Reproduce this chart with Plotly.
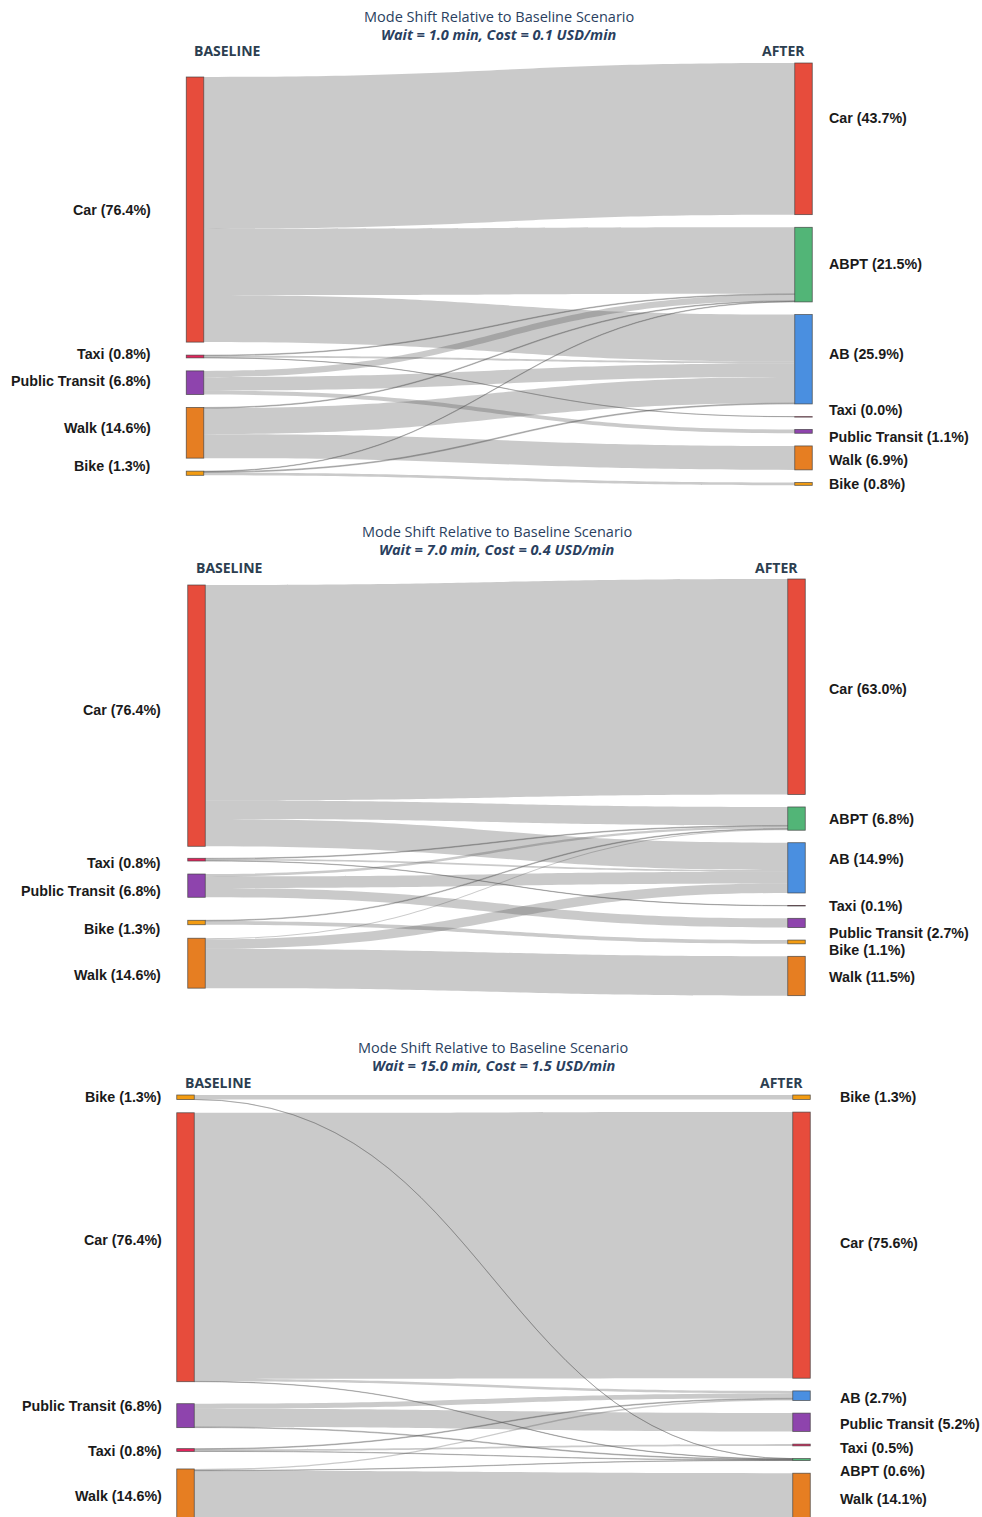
import plotly.graph_objects as go

FIG_W, FIG_H = 982, 1517

# ---------------- data ----------------
scenario_subtitles = [
    "Wait = 1.0 min, Cost = 0.1 USD/min",
    "Wait = 7.0 min, Cost = 0.4 USD/min",
    "Wait = 15.0 min, Cost = 1.5 USD/min",
]

# Scenario 1
s1_base_modes = ["Car", "Taxi", "Public Transit", "Walk", "Bike"]
s1_base_share = [76.4, 0.8, 6.8, 14.6, 1.3]
s1_after_modes = ["Car", "ABPT", "AB", "Taxi", "Public Transit", "Walk", "Bike"]
s1_after_share = [43.7, 21.5, 25.9, 0.0, 1.1, 6.9, 0.8]
s1_flow_from = ["Car", "Car", "Car", "Taxi", "Taxi", "Taxi",
                "Public Transit", "Public Transit", "Public Transit",
                "Walk", "Walk", "Walk", "Bike", "Bike", "Bike"]
s1_flow_to = ["Car", "ABPT", "AB", "ABPT", "AB", "Taxi",
              "ABPT", "AB", "Public Transit",
              "ABPT", "AB", "Walk", "ABPT", "AB", "Bike"]
s1_flow_value = [43.7, 19.15, 13.55, 0.2, 0.55, 0.05,
                 1.8, 3.9, 1.1,
                 0.2, 7.5, 6.9, 0.15, 0.25, 0.8]

# Scenario 2
s2_base_modes = ["Car", "Taxi", "Public Transit", "Bike", "Walk"]
s2_base_share = [76.4, 0.8, 6.8, 1.3, 14.6]
s2_after_modes = ["Car", "ABPT", "AB", "Taxi", "Public Transit", "Bike", "Walk"]
s2_after_share = [63.0, 6.8, 14.9, 0.1, 2.7, 1.1, 11.5]
s2_flow_from = ["Car", "Car", "Car", "Taxi", "Taxi", "Taxi",
                "Public Transit", "Public Transit", "Public Transit",
                "Bike", "Bike", "Walk", "Walk", "Walk"]
s2_flow_to = ["Car", "ABPT", "AB", "ABPT", "AB", "Taxi",
              "ABPT", "AB", "Public Transit",
              "ABPT", "Bike", "ABPT", "AB", "Walk"]
s2_flow_value = [63.0, 5.4, 8.0, 0.2, 0.5, 0.1,
                 0.7, 3.4, 2.7,
                 0.2, 1.1, 0.3, 2.8, 11.5]

# Scenario 3
s3_base_modes = ["Bike", "Car", "Public Transit", "Taxi", "Walk"]
s3_base_share = [1.3, 76.4, 6.8, 0.8, 14.6]
s3_after_modes = ["Bike", "Car", "AB", "Public Transit", "Taxi", "ABPT", "Walk"]
s3_after_share = [1.3, 75.6, 2.7, 5.2, 0.5, 0.6, 14.1]
s3_flow_from = ["Bike", "Bike", "Car", "Car", "Car",
                "Public Transit", "Public Transit", "Public Transit",
                "Taxi", "Taxi", "Taxi", "Walk", "Walk", "Walk"]
s3_flow_to = ["Bike", "ABPT", "Car", "AB", "ABPT",
              "Public Transit", "AB", "ABPT",
              "Taxi", "AB", "ABPT", "Walk", "AB", "ABPT"]
s3_flow_value = [1.25, 0.05, 75.6, 0.7, 0.1,
                 5.2, 1.4, 0.2,
                 0.5, 0.2, 0.1, 14.1, 0.4, 0.1]

mode_colors = {
    "Car": "#e74c3c",
    "Taxi": "#e3245c",
    "Public Transit": "#8e44ad",
    "Walk": "#e67e22",
    "Bike": "#f39c12",
    "ABPT": "#52b577",
    "AB": "#4a8fe0",
}

# ---------------- layout (pixel geometry) ----------------
geom = [
    dict(top=63, bottom=486, ky=3.47, lx=195, rx=803.5,
         lstart=77, lgaps=[13, 13, 13, 13], rstart=63, rgap=12.67,
         llab_x=153, rlab_x=827,
         llab_y=[210, 354, 381, 428, 466],
         rlab_y=[118, 264, 354, 410, 437, 460, 484],
         tx=499, ty=16, sy=34, hy=51, bx=192, ax=807),
    dict(top=579, bottom=996, ky=3.42, lx=196.5, rx=796.5,
         lstart=585, lgaps=[12, 13, 23, 13.5], rstart=579, rgap=12.5,
         llab_x=163, rlab_x=827,
         llab_y=[710, 863, 891, 929, 975],
         rlab_y=[689, 819, 859, 906, 933, 950, 977],
         tx=497, ty=532, sy=550, hy=567, bx=194, ax=800),
    dict(top=1095, bottom=1517, ky=3.52, lx=185.5, rx=801.5,
         lstart=1095, lgaps=[13.2, 22, 21, 17.5], rstart=1095, rgap=12.7,
         llab_x=164, rlab_x=838,
         llab_y=[1097, 1240, 1406, 1451, 1496],
         rlab_y=[1097, 1243, 1398, 1424, 1448, 1471, 1499],
         tx=493, ty=1047, sy=1065, hy=1082, bx=183, ax=805),
]

scenarios = [
    (s1_base_modes, s1_base_share, s1_after_modes, s1_after_share,
     s1_flow_from, s1_flow_to, s1_flow_value),
    (s2_base_modes, s2_base_share, s2_after_modes, s2_after_share,
     s2_flow_from, s2_flow_to, s2_flow_value),
    (s3_base_modes, s3_base_share, s3_after_modes, s3_after_share,
     s3_flow_from, s3_flow_to, s3_flow_value),
]

NODE_T = 17.5
LABEL_FONT = "Liberation Sans, Arial, Helvetica, sans-serif"
TITLE_FONT = "Open Sans, sans-serif"
LINK_COLOR = "rgba(80,80,80,0.3)"


def px_x(p):
    return p / FIG_W


def px_y(p):
    return 1 - p / FIG_H


def stack_centers(values, ky, start, gaps):
    centers = []
    y = start
    for i, v in enumerate(values):
        h = ky * v
        centers.append(y + h / 2)
        y += h + (gaps[i] if i < len(gaps) else 0)
    return centers


fig = go.Figure()
annotations = []

for (bm, bs, am, ash, ff, ft, fv), g, sub in zip(scenarios, geom, scenario_subtitles):
    n_left = len(bm)
    left_vals = [sum(v for f, v in zip(ff, fv) if f == m) for m in bm]
    right_vals = [sum(v for t, v in zip(ft, fv) if t == m) for m in am]
    total = sum(fv)
    hdom = g["bottom"] - g["top"]
    pad = (hdom - g["ky"] * total) / (len(am) - 1)

    lc = stack_centers(left_vals, g["ky"], g["lstart"], g["lgaps"])
    rc = stack_centers(right_vals, g["ky"], g["rstart"], [g["rgap"]] * len(am))

    node_x = [g["lx"] / FIG_W] * n_left + [g["rx"] / FIG_W] * len(am)
    node_y = [(c - g["top"]) / hdom for c in lc] + [(c - g["top"]) / hdom for c in rc]
    node_col = [mode_colors[m] for m in bm] + [mode_colors[m] for m in am]

    src = [bm.index(f) for f in ff]
    tgt = [n_left + am.index(t) for t in ft]

    fig.add_trace(go.Sankey(
        domain=dict(x=[0, 1], y=[px_y(g["bottom"]), px_y(g["top"])]),
        arrangement="fixed",
        node=dict(
            label=[""] * (n_left + len(am)),
            customdata=bm + am,
            hovertemplate="%{customdata}<extra></extra>",
            x=node_x, y=node_y,
            color=node_col,
            pad=pad,
            thickness=NODE_T,
            line=dict(color="rgba(60,60,60,0.8)", width=0.8),
        ),
        link=dict(
            source=src, target=tgt, value=fv,
            color=LINK_COLOR,
            line=dict(width=0),
        ),
    ))

    # titles
    annotations.append(dict(x=px_x(g["tx"]), y=px_y(g["ty"]), xref="paper", yref="paper",
                            text="Mode Shift Relative to Baseline Scenario", showarrow=False,
                            xanchor="center", yanchor="middle",
                            font=dict(family=TITLE_FONT, size=14.5, color="#2a3f5f")))
    annotations.append(dict(x=px_x(g["tx"]), y=px_y(g["sy"]), xref="paper", yref="paper",
                            text="<b><i>" + sub + "</i></b>", showarrow=False,
                            xanchor="center", yanchor="middle",
                            font=dict(family=TITLE_FONT, size=14.5, color="#2a3f5f")))
    annotations.append(dict(x=px_x(g["bx"]), y=px_y(g["hy"]), xref="paper", yref="paper",
                            text="<b>BASELINE</b>", showarrow=False,
                            xanchor="left", yanchor="middle",
                            font=dict(family=TITLE_FONT, size=14, color="#2c3e50")))
    annotations.append(dict(x=px_x(g["ax"]), y=px_y(g["hy"]), xref="paper", yref="paper",
                            text="<b>AFTER</b>", showarrow=False,
                            xanchor="right", yanchor="middle",
                            font=dict(family=TITLE_FONT, size=14, color="#2c3e50")))
    # node labels
    for m, s, yy in zip(bm, bs, g["llab_y"]):
        annotations.append(dict(x=px_x(g["llab_x"]), y=px_y(yy), xref="paper", yref="paper",
                                text=f"<b>{m} ({s:.1f}%)</b>", showarrow=False,
                                xanchor="right", yanchor="middle",
                                font=dict(family=LABEL_FONT, size=14.3, color="#1a1a1a")))
    for m, s, yy in zip(am, ash, g["rlab_y"]):
        annotations.append(dict(x=px_x(g["rlab_x"]), y=px_y(yy), xref="paper", yref="paper",
                                text=f"<b>{m} ({s:.1f}%)</b>", showarrow=False,
                                xanchor="left", yanchor="middle",
                                font=dict(family=LABEL_FONT, size=14.3, color="#1a1a1a")))

fig.update_layout(
    width=FIG_W, height=FIG_H,
    margin=dict(l=0, r=0, t=0, b=0),
    paper_bgcolor="white",
    annotations=annotations,
    showlegend=False,
)

fig.write_html("out.html", config={"displayModeBar": False},
               post_script="document.body.style.margin='0';")
